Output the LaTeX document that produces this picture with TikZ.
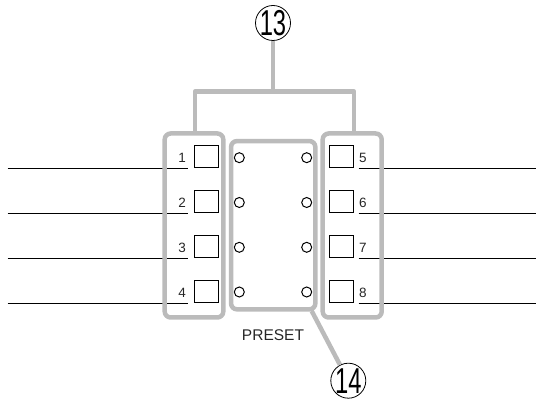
\documentclass[tikz,border=0pt]{standalone}
\usepackage{fontspec}
\setmainfont{Liberation Sans}
\tikzset{
  px/.style={x=1pt,y=-1pt},
  keybox/.style={draw=black,line width=1pt,fill=white,minimum width=23.4pt,minimum height=22.6pt,inner sep=0pt},
  lamp/.style={circle,draw=black,line width=1pt,minimum size=10pt,inner sep=0pt},
  frame/.style={draw=framegray,line width=4.5pt,rounded corners=6pt,inner sep=0pt},
  leader/.style={draw=framegray,line width=4.5pt},
  rule/.style={draw=black,line width=0.9pt},
  numlabel/.style={inner sep=0pt,font=\fontsize{13.5pt}{15pt}\selectfont,text=black!85},
  callout/.style={circle,draw=black,line width=0.8pt,fill=white,minimum size=35pt,inner sep=0pt},
  calltext/.style={inner sep=0pt,font=\fontsize{36pt}{37pt}\selectfont,xscale=0.66},
}
\definecolor{framegray}{RGB}{187,187,187}
\begin{document}
\begin{tikzpicture}[px]
\useasboundingbox (0,0) rectangle (536,403);
% leader rules and labels
\foreach \i/\y in {1/168.3,2/213.3,3/258.3,4/303.3}{
  \coordinate (la\i) at (7.7,\y);
  \coordinate (lb\i) at (187.7,\y);
  \draw[rule] (la\i) -- (lb\i);
  \node[numlabel,anchor=base east] (ln\i) at (186,\y-5.3) {\i};
  \node[keybox,anchor=south west] (lk\i) at (194.3,\y) {};
}
\foreach \i/\y in {5/168.3,6/213.3,7/258.3,8/303.3}{
  \coordinate (ra\i) at (358.7,\y);
  \coordinate (rb\i) at (536,\y);
  \draw[rule] (ra\i) -- (rb\i);
  \node[numlabel,anchor=base west] (rn\i) at (359,\y-5.3) {\i};
  \node[keybox,anchor=south west] (rk\i) at (329.3,\y) {};
}
\foreach \i/\y in {1/157.7,2/202.5,3/247.3,4/292}{
  \node[lamp] (pl\i) at (239.3,\y) {};
  \node[lamp] (pr\i) at (306.7,\y) {};
}
% grey frames
\node[frame,minimum width=58.6pt,minimum height=184pt] (fl) at (194,225.5) {};
\node[frame,minimum width=84.3pt,minimum height=168.3pt] (fm) at (273.2,225.2) {};
\node[frame,minimum width=59pt,minimum height=184pt] (fr) at (352.2,225.5) {};
% callouts
\node[callout] (c13) at (273,23) {};
\node[calltext] (t13) at (273,23.5) {13};
\node[callout] (c14) at (348.3,380.7) {};
\node[calltext] (t14) at (348.3,381.2) {14};
\coordinate (bj) at (273,91.5);
\coordinate (bl) at (195,91.5);
\coordinate (br) at (354,91.5);
\coordinate (mt) at (311.7,311);
\draw[leader] (c13.south) -- (bj);
\draw[leader,line join=round] (fl.north -| bl) -- (bl) -- (br) -- (fr.north -| br);
\draw[leader] (mt) -- (c14);
\node[inner sep=0pt,font=\fontsize{15.5pt}{17pt}\selectfont,text=black!85] (preset) at (273,335) {PRESET};
\end{tikzpicture}
\end{document}
